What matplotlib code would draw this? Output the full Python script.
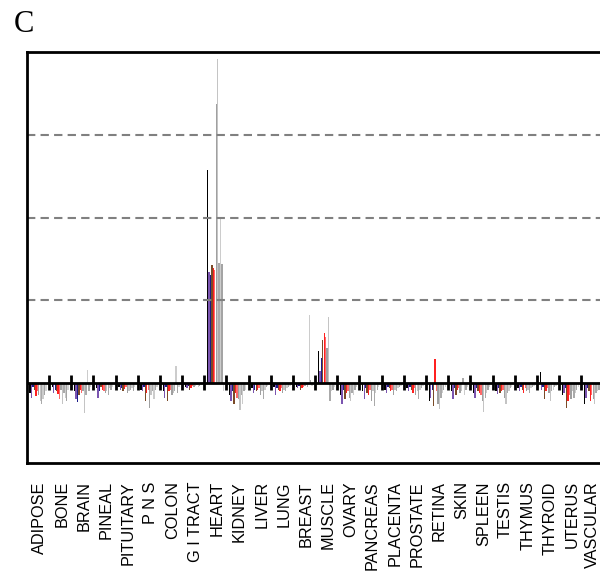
import numpy as np
import matplotlib
matplotlib.use('Agg')
import matplotlib.pyplot as plt
import matplotlib.transforms as mtransforms

tissues = ['ADIPOSE', 'BONE', 'BRAIN', 'PINEAL', 'PITUITARY', 'P N S', 'COLON',
           'G I TRACT', 'HEART', 'KIDNEY', 'LIVER', 'LUNG', 'BREAST', 'MUSCLE',
           'OVARY', 'PANCREAS', 'PLACENTA', 'PROSTATE', 'RETINA', 'SKIN', 'SPLEEN',
           'TESTIS', 'THYMUS', 'THYROID', 'UTERUS', 'VASCULAR']

# one list per sample (values per tissue)
black = [-0.12, -0.05, -0.10, -0.06, -0.05, -0.08, -0.10, -0.05, 2.57, -0.15, -0.06, -0.05, -0.05,
         0.39, -0.15, -0.10, -0.08, -0.06, -0.22, -0.10, -0.12, -0.10, -0.06, 0.13, -0.15, -0.25]
purple = [-0.18, -0.12, -0.20, -0.18, -0.08, -0.10, -0.18, -0.06, 1.34, -0.22, -0.12, -0.15, -0.06,
          0.14, -0.25, -0.20, -0.12, -0.10, -0.18, -0.20, -0.18, -0.14, -0.10, -0.08, -0.12, -0.18]
navy = [-0.05, -0.08, -0.23, -0.10, -0.06, -0.05, -0.05, -0.04, 1.30, -0.10, -0.08, -0.06, -0.04,
        0.30, -0.08, -0.06, -0.05, -0.05, -0.08, -0.06, -0.06, -0.06, -0.05, -0.05, -0.06, -0.06]
brown = [-0.08, -0.10, -0.15, -0.05, -0.10, -0.22, -0.22, -0.08, 1.43, -0.25, -0.10, -0.08, -0.08,
         0.52, -0.20, -0.12, -0.06, -0.08, -0.28, -0.15, -0.10, -0.12, -0.08, -0.20, -0.30, -0.10]
red = [-0.16, -0.14, -0.08, -0.08, -0.07, -0.12, -0.10, -0.06, 1.39, -0.12, -0.08, -0.10, -0.06,
       0.60, -0.12, -0.15, -0.10, -0.12, 0.29, -0.08, -0.12, -0.10, -0.12, -0.10, -0.22, -0.22]
salmon = [-0.10, -0.20, -0.12, -0.10, -0.05, -0.08, -0.08, -0.04, 1.36, -0.18, -0.06, -0.06, -0.05,
          0.55, -0.10, -0.08, -0.08, -0.06, -0.10, -0.06, -0.15, -0.08, -0.06, -0.06, -0.15, -0.15]
gray1 = [-0.15, -0.08, -0.10, -0.12, -0.12, -0.30, -0.15, -0.05, 3.37, -0.20, -0.15, -0.12, -0.04,
         0.42, -0.18, -0.22, -0.15, -0.15, -0.25, -0.12, -0.22, -0.18, -0.10, -0.12, -0.20, -0.20]
lgray1 = [-0.22, -0.25, -0.36, -0.10, -0.10, -0.15, -0.12, -0.04, 3.92, -0.33, -0.10, -0.08, -0.03,
          0.80, -0.22, -0.10, -0.08, -0.10, -0.32, -0.10, -0.35, -0.25, -0.08, -0.22, -0.10, -0.25]
gray2 = [-0.25, -0.12, -0.15, -0.15, -0.08, -0.10, -0.10, -0.03, 1.45, -0.15, -0.20, -0.10, -0.05,
         -0.22, -0.12, -0.28, -0.10, -0.20, -0.18, 0.06, -0.18, -0.12, -0.12, -0.10, -0.18, -0.12]
lgray2 = [-0.20, -0.18, 0.16, -0.06, -0.06, -0.20, 0.20, -0.05, 2.00, -0.25, -0.08, -0.06, 0.82,
          -0.10, -0.15, -0.12, -0.06, -0.08, -0.12, -0.15, -0.12, -0.10, -0.06, -0.08, -0.12, -0.10]
gray3 = [-0.15, -0.22, -0.10, -0.08, -0.10, -0.08, -0.12, -0.04, 1.44, -0.10, -0.05, -0.05, 0.03,
         -0.08, -0.08, -0.08, -0.05, -0.06, -0.08, -0.08, -0.08, -0.06, -0.05, -0.05, -0.08, -0.08]
lgray3 = [-0.10, -0.08, -0.05, -0.05, -0.05, -0.05, -0.05, -0.03, -0.10, -0.08, -0.04, -0.04, -0.04,
          -0.05, -0.05, -0.05, -0.04, -0.04, -0.05, -0.05, -0.05, -0.05, -0.04, -0.04, -0.05, -0.05]

series = [black, purple, navy, brown, red, salmon, gray1, lgray1, gray2, lgray2, gray3, lgray3]
colors = ['#000000', '#7b55b0', '#1c1c8a', '#7a4a28', '#ff2020', '#ff6a6a',
          '#a0a0a0', '#c4c4c4', '#aaaaaa', '#cccccc', '#a4a4a4', '#d4d4d4']

fig = plt.figure(figsize=(6, 5.76), dpi=100)
ax = fig.add_axes([0.0447, 0.196, 0.961, 0.7135])

idx = np.arange(len(tissues))
for j, (vals, c) in enumerate(zip(series, colors)):
    ax.bar(idx + 0.15 + 0.065 * j, vals, width=0.062, align='center', color=c, linewidth=0)

for yv in [1, 2, 3]:
    ax.axhline(yv, color='#808080', lw=1.5, linestyle=(0, (4, 2.5)))
ax.axhline(0, color='black', lw=2)
# group separators on the zero line
ax.vlines(np.arange(1, len(tissues)), -0.09, 0.09, color='black', lw=2)

ax.set_xlim(0, len(tissues))
ax.set_ylim(-0.97, 4.0)
ax.set_yticks([])
ax.set_xticks(idx + 0.5)
ax.set_xticklabels(tissues, rotation=90, fontsize=11.7, family='Liberation Sans')
ax.tick_params(axis='x', length=0, pad=13)
shift = mtransforms.ScaledTranslation(2 / 100, 0, fig.dpi_scale_trans)
for lab in ax.get_xticklabels()[:-1]:
    lab.set_transform(lab.get_transform() + shift)
for s in ax.spines.values():
    s.set_linewidth(2)

fig.text(0.023, 0.944, 'C', fontsize=22, family='Liberation Serif', va='baseline', ha='left')

fig.savefig('out.png', dpi=100)
